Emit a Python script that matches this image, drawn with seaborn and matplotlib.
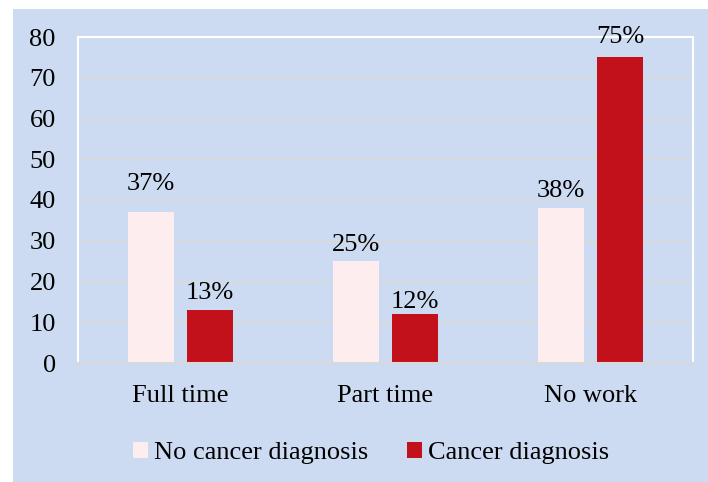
import matplotlib
matplotlib.use("Agg")
import matplotlib.pyplot as plt
from matplotlib.patches import Rectangle, Patch
import seaborn as sns
import pandas as pd

# Employment status by cancer diagnosis (percent)
categories = ["Full time", "Part time", "No work"]
no_cancer = [37, 25, 38]
cancer = [13, 12, 75]
series_names = ["No cancer diagnosis", "Cancer diagnosis"]
y_ticks = [0, 10, 20, 30, 40, 50, 60, 70, 80]

BG = "#CCDBF1"
PINK = "#FDEDEE"
RED = "#C2111B"
GRID = "#D9D9D9"
FS = 19
# vertical gap (points) between each bar top and its label baseline, per series
label_gaps = [[16, 7, 8], [8, 4.5, 10]]

df = pd.DataFrame({
    "status": categories * 2,
    "group": [series_names[0]] * 3 + [series_names[1]] * 3,
    "value": no_cancer + cancer,
})

sns.set_theme(style="white")
plt.rcParams["font.family"] = ["Liberation Serif", "DejaVu Serif"]
plt.rcParams["text.color"] = "black"

fig = plt.figure(figsize=(7.08, 4.82), dpi=100, facecolor="white")
fig.add_artist(Rectangle((13 / 708, 0), 1 - 13 / 708, 1 - 9 / 482,
                         transform=fig.transFigure, facecolor=BG,
                         edgecolor="none", zorder=-10))
ax = fig.add_axes([78 / 708, 1 - 363 / 482, (693 - 78) / 708, (363 - 37) / 482])
ax.set_facecolor(BG)

sns.barplot(data=df, x="status", y="value", hue="group", order=categories,
            hue_order=series_names, palette=[PINK, RED], width=0.58, gap=0.22,
            ax=ax, legend=False, saturation=1, edgecolor="none")

ax.set_ylim(0, 80)
ax.set_xlim(-0.5, 2.5)
ax.set_yticks(y_ticks)
ax.set_yticklabels([str(t) for t in y_ticks])
ax.yaxis.grid(True, color=GRID, linewidth=1.2)
ax.set_axisbelow(True)
ax.set_xlabel("")
ax.set_ylabel("")
ax.tick_params(axis="y", length=0, pad=16, labelsize=FS, labelcolor="black")
ax.tick_params(axis="x", length=0, pad=16, labelsize=FS, labelcolor="black")

for side in ("left", "top", "right"):
    ax.spines[side].set_color("white")
    ax.spines[side].set_linewidth(1.5)
ax.spines["bottom"].set_color(GRID)
ax.spines["bottom"].set_linewidth(1.5)

for container, gaps in zip(ax.containers, label_gaps):
    for bar, value, gap in zip(container.patches, container.datavalues, gaps):
        ax.annotate(f"{value:g}%", (bar.get_x() + bar.get_width() / 2, bar.get_height()),
                    xytext=(0, gap), textcoords="offset points",
                    ha="center", va="baseline", fontsize=FS, color="black")

handles = [Patch(facecolor=PINK, edgecolor="none"),
           Patch(facecolor=RED, edgecolor="none")]
fig.legend(handles, series_names, loc="center", bbox_to_anchor=(371 / 708, 1 - 453 / 482),
           ncol=2, frameon=False, fontsize=FS, handlelength=0.55, handleheight=0.55,
           handletextpad=0.22, columnspacing=1.5, labelcolor="black")

fig.savefig("out.png", dpi=100, facecolor="white")
